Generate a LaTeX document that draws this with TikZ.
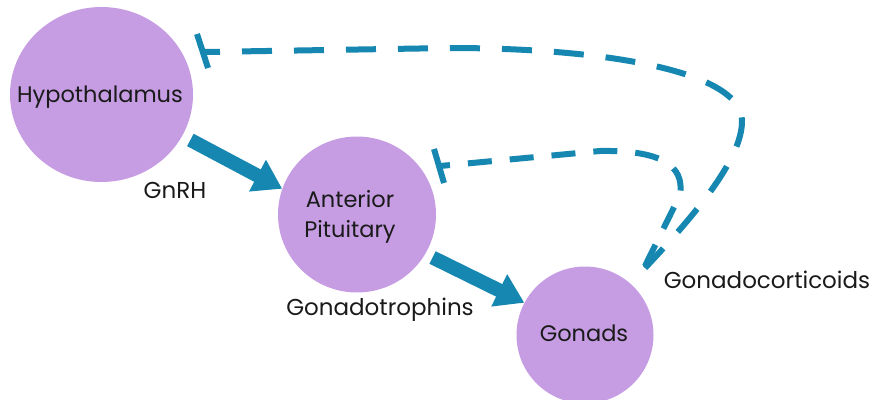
\documentclass[tikz,border=0pt]{standalone}
\usepackage{fontspec}
\setmainfont{Poppins}
\usetikzlibrary{arrows.meta,shapes.geometric}
\definecolor{organ}{HTML}{C69DE3}
\definecolor{signal}{HTML}{1587B1}
\definecolor{ink}{HTML}{1A1A1A}
\begin{document}
\begin{tikzpicture}[x=1pt,y=-1pt,
  organ/.style={ellipse, fill=organ, draw=none, inner sep=0pt},
  organname/.style={text=ink, font=\fontsize{22.5}{27}\selectfont, align=center, inner sep=0pt},
  lbl/.style={text=ink, font=\fontsize{23}{27}\selectfont, inner sep=0pt},
  drive/.style={draw=signal, line width=14pt, -{Triangle[length=28pt,width=34pt]}},
  feedback/.style={draw=signal, line width=6pt},
  barend/.style={draw=signal, line width=6pt}]
\useasboundingbox (0,0) rectangle (875,399);

% glands
\node[organ, minimum width=183pt, minimum height=175pt] (hyp) at (101.5,94.5) {};
\node[organ, minimum width=158pt, minimum height=156pt] (pit) at (357,214.5) {};
\node[organ, minimum width=137pt, minimum height=137pt] (gon) at (585,335) {};
\node[organname] (hypname) at (100,97) {Hypothalamus};
\node[organname] (pitname) at (350,217) {Anterior\\[3pt]Pituitary};
\node[organname] (gonname) at (584,333) {Gonads};

% stimulating hormones
\draw[drive, shorten <=9pt] (hyp.-27) -- (pit.161);
\draw[drive, shorten <=8pt] (pit.-30) -- (gon.152);

% negative feedback from the gonads
\coordinate (t1) at (205,52);
\coordinate (t1a) at (197,34);
\coordinate (t1b) at (208,68);
\coordinate (t2) at (440,166);
\coordinate (t2a) at (434,149);
\coordinate (t2b) at (444,183);
\coordinate (g1) at (645,268);
\coordinate (g2) at (645,266);

\draw[feedback, dash pattern=on 30pt off 22pt, dash phase=15pt]
  (t1) -- (450,48) .. controls (600,48) and (740,70) .. (742,120)
  .. controls (743,160) and (690,220) .. (g1);
\draw[feedback, dash pattern=on 24pt off 18pt, dash phase=14pt]
  (t2) -- (600,151) .. controls (660,150) and (685,165) .. (680,195) -- (g2);
\draw[barend] (t1a) -- (t1b);
\draw[barend] (t2a) -- (t2b);

% hormone labels
\node[lbl] (l1) at (175,190) {GnRH};
\node[lbl] (l2) at (380,310) {Gonadotrophins};
\node[lbl] (l3) at (767,280) {Gonadocorticoids};
\end{tikzpicture}
\end{document}
